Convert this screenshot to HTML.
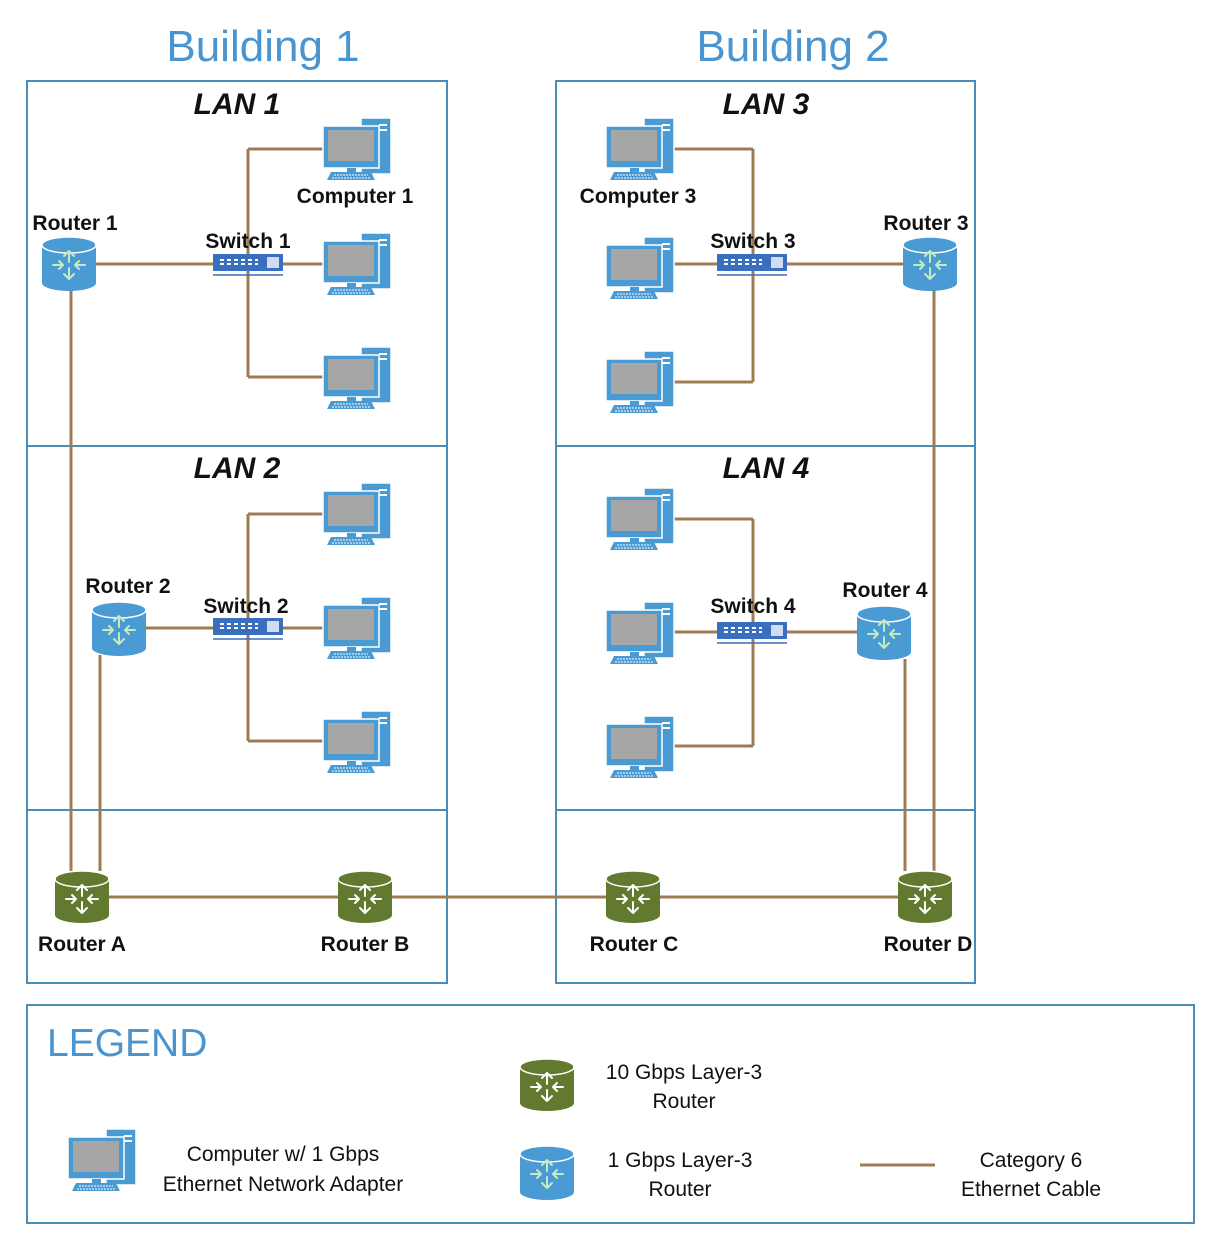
<!DOCTYPE html>
<html><head><meta charset="utf-8"><style>
html,body{margin:0;padding:0;background:#fff}
svg{display:block}
text{font-family:"Liberation Sans",sans-serif}
.lbl{font-size:21px;font-weight:bold;fill:#111}
.lan{font-size:30px;font-weight:bold;font-style:italic;fill:#111}
.bld{font-size:44px;fill:#4a95d0}
.leg{font-size:21px;fill:#111}
</style></head><body>
<svg width="1214" height="1242" viewBox="0 0 1214 1242" xmlns="http://www.w3.org/2000/svg">
<defs>
<g id="comp">
 <rect x="40" y="0" width="30" height="56" fill="#4a9bd4" stroke="#fff" stroke-width="1.5"/>
 <rect x="58" y="6" width="8" height="2" fill="#fff"/><rect x="58" y="11" width="8" height="2" fill="#fff"/>
 <rect x="2" y="8" width="56" height="42" fill="#4a9bd4" stroke="#fff" stroke-width="1.5"/>
 <rect x="7" y="12" width="46" height="31" fill="#a6a6a6"/>
 <rect x="26" y="50" width="9" height="4" fill="#4a9bd4"/>
 <polygon points="6,62 54,62 50,54 10,54" fill="#4a9bd4"/>
 <line x1="13" y1="57" x2="47" y2="57" stroke="#fff" stroke-dasharray="2 1"/>
 <line x1="11" y1="60" x2="49" y2="60" stroke="#fff" stroke-dasharray="2 1"/>
</g>
<g id="arr" stroke-width="2" fill="none" stroke-linecap="round" stroke-linejoin="round">
 <path d="M27 15 L27 26 M22 20 L27 15 L32 20"/>
 <path d="M27 43 L27 32 M22 38 L27 43 L32 38"/>
 <path d="M11 29 L21 29 M17 25 L21 29 L17 33"/>
 <path d="M43 29 L33 29 M37 25 L33 29 L37 33"/>
</g>
<g id="rb">
 <path d="M0 9 L0 47 A27 8 0 0 0 54 47 L54 9 Z" fill="#4a9bd4"/>
 <ellipse cx="27" cy="9" rx="27" ry="8" fill="#4a9bd4" stroke="#fff" stroke-width="1.5"/>
 <use href="#arr" stroke="#c8eac0"/>
</g>
<g id="rg">
 <path d="M0 9 L0 45 A27 8 0 0 0 54 45 L54 9 Z" fill="#627a30"/>
 <ellipse cx="27" cy="9" rx="27" ry="8" fill="#627a30" stroke="#fff" stroke-width="1.5"/>
 <use href="#arr" stroke="#fff"/>
</g>
<g id="sw">
 <rect x="0" y="0" width="70" height="17" fill="#3a6fc0"/>
 <line x1="7" y1="6" x2="45" y2="6" stroke="#fff" stroke-width="2" stroke-dasharray="4 3"/>
 <line x1="7" y1="10" x2="45" y2="10" stroke="#fff" stroke-width="2" stroke-dasharray="4 3"/>
 <rect x="54" y="3" width="12" height="11" fill="#cfdcf2"/>
 <line x1="0" y1="21" x2="70" y2="21" stroke="#3a6fc0" stroke-width="1.5"/>
</g>
</defs>

<g fill="none" stroke="#4a8db8" stroke-width="2">
 <rect x="27" y="81" width="420" height="902"/>
 <line x1="27" y1="446" x2="447" y2="446"/><line x1="27" y1="810" x2="447" y2="810"/>
 <rect x="556" y="81" width="419" height="902"/>
 <line x1="556" y1="446" x2="975" y2="446"/><line x1="556" y1="810" x2="975" y2="810"/>
 <rect x="27" y="1005" width="1167" height="218"/>
</g>

<text class="bld" x="263" y="61" text-anchor="middle">Building 1</text>
<text class="bld" x="793" y="61" text-anchor="middle">Building 2</text>
<text class="lan" x="237" y="114" text-anchor="middle">LAN 1</text>
<text class="lan" x="766" y="114" text-anchor="middle">LAN 3</text>
<text class="lan" x="237" y="478" text-anchor="middle">LAN 2</text>
<text class="lan" x="766" y="478" text-anchor="middle">LAN 4</text>

<g stroke="#9c7c55" stroke-width="3" fill="none">
 <path d="M96 264 H213 M248 149 V377 M248 149 H323 M283 264 H323 M248 377 H323"/>
 <path d="M71 290 V871 M100 655 V871"/>
 <path d="M146 628 H213 M248 514 V741 M248 514 H323 M283 628 H323 M248 741 H323"/>
 <path d="M753 149 V382 M674 149 H753 M674 264 H717 M674 382 H753 M787 264 H903 M934 290 V871"/>
 <path d="M753 519 V746 M674 519 H753 M674 632 H717 M674 746 H753 M787 632 H857 M905 659 V871"/>
 <path d="M109 897 H898"/>
 <path d="M860 1165 H935"/>
</g>

<use href="#comp" x="321" y="118"/><use href="#comp" x="321" y="233"/><use href="#comp" x="321" y="347"/>
<use href="#comp" x="321" y="483"/><use href="#comp" x="321" y="597"/><use href="#comp" x="321" y="711"/>
<use href="#comp" x="604" y="118"/><use href="#comp" x="604" y="237"/><use href="#comp" x="604" y="351"/>
<use href="#comp" x="604" y="488"/><use href="#comp" x="604" y="602"/><use href="#comp" x="604" y="716"/>
<use href="#comp" x="66" y="1129"/>

<use href="#sw" x="213" y="254"/><use href="#sw" x="213" y="618"/>
<use href="#sw" x="717" y="254"/><use href="#sw" x="717" y="622"/>

<use href="#rb" x="42" y="236"/><use href="#rb" x="92" y="601"/>
<use href="#rb" x="903" y="236"/><use href="#rb" x="857" y="605"/>
<use href="#rg" x="55" y="870"/><use href="#rg" x="338" y="870"/>
<use href="#rg" x="606" y="870"/><use href="#rg" x="898" y="870"/>
<use href="#rg" x="520" y="1058"/><use href="#rb" x="520" y="1145"/>

<text class="lbl" x="355" y="203" text-anchor="middle">Computer 1</text>
<text class="lbl" x="75" y="230" text-anchor="middle">Router 1</text>
<text class="lbl" x="248" y="248" text-anchor="middle">Switch 1</text>
<text class="lbl" x="128" y="593" text-anchor="middle">Router 2</text>
<text class="lbl" x="246" y="613" text-anchor="middle">Switch 2</text>
<text class="lbl" x="638" y="203" text-anchor="middle">Computer 3</text>
<text class="lbl" x="753" y="248" text-anchor="middle">Switch 3</text>
<text class="lbl" x="926" y="230" text-anchor="middle">Router 3</text>
<text class="lbl" x="753" y="613" text-anchor="middle">Switch 4</text>
<text class="lbl" x="885" y="597" text-anchor="middle">Router 4</text>
<text class="lbl" x="82" y="951" text-anchor="middle">Router A</text>
<text class="lbl" x="365" y="951" text-anchor="middle">Router B</text>
<text class="lbl" x="634" y="951" text-anchor="middle">Router C</text>
<text class="lbl" x="928" y="951" text-anchor="middle">Router D</text>

<text x="47" y="1056" style="font-size:39px;fill:#4a95d0">LEGEND</text>
<text class="leg" x="684" y="1079" text-anchor="middle">10 Gbps Layer-3</text>
<text class="leg" x="684" y="1108" text-anchor="middle">Router</text>
<text class="leg" x="680" y="1167" text-anchor="middle">1 Gbps Layer-3</text>
<text class="leg" x="680" y="1196" text-anchor="middle">Router</text>
<text class="leg" x="283" y="1161" text-anchor="middle">Computer w/ 1 Gbps</text>
<text class="leg" x="283" y="1191" text-anchor="middle">Ethernet Network Adapter</text>
<text class="leg" x="1031" y="1167" text-anchor="middle">Category 6</text>
<text class="leg" x="1031" y="1196" text-anchor="middle">Ethernet Cable</text>
</svg>
</body></html>
